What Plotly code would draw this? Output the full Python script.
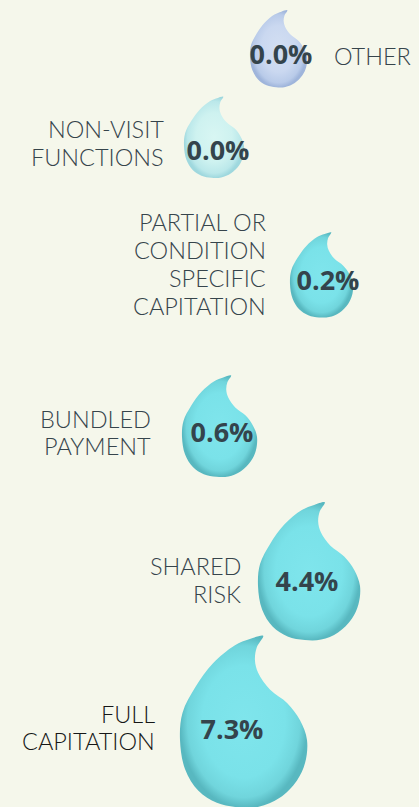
import numpy as np
import plotly.graph_objects as go

# ---- data ----
categories = ["OTHER", "NON-VISIT<br>FUNCTIONS",
              "PARTIAL OR<br>CONDITION<br>SPECIFIC<br>CAPITATION",
              "BUNDLED<br>PAYMENT", "SHARED<br>RISK", "FULL<br>CAPITATION"]
values = [0.0, 0.0, 0.2, 0.6, 4.4, 7.3]

# ---- layout (pixel space) ----
W, H = 419, 807
drop_cx = [278.5, 214, 321.5, 219.5, 309, 243.5]
drop_cy = [57, 146, 284, 437, 586, 740]
drop_r = [28.5, 30, 31.5, 37.5, 51, 63.5]
value_x = [281, 218, 328, 222, 307, 232]
value_y = [57, 153, 283, 435, 584, 732]
label_x = [332, 166, 268, 153, 243, 157]
label_y = [55.5, 143, 264, 432.5, 580, 727.5]
label_side = ["left", "right", "right", "right", "right", "right"]
label_colors = ["#36444b"] * 5 + ["#161717"]
LINE_GAP = 27.7
cyan = [[0, "#7fe5ec"], [0.65, "#7ae2e9"], [0.88, "#70d5dc"], [1, "#58b8c0"]]
drop_scales = [
    [[0, "#d3dff2"], [0.6, "#cad8f0"], [0.88, "#b9cbe9"], [1, "#9fb5db"]],
    [[0, "#d8f6f3"], [0.6, "#cef2f0"], [0.88, "#bbe8ea"], [1, "#9fd8de"]],
    cyan, cyan, cyan, cyan,
]
BG = "#f5f7eb"

# normalised droplet outline (unit radius, y up), clockwise from the tip
drop_outline = np.array([
    (0.31, 1.64), (0.21, 1.46), (0.18, 1.26), (0.23, 1.06), (0.42, 0.79),
    (0.69, 0.58), (0.89, 0.31), (1.00, 0.00), (0.97, -0.36), (0.84, -0.64),
    (0.57, -0.91), (0.24, -1.05), (-0.08, -1.06), (-0.42, -0.99),
    (-0.71, -0.80), (-0.92, -0.46), (-1.00, 0.00), (-0.96, 0.43),
    (-0.76, 0.83), (-0.48, 1.21), (-0.14, 1.49), (0.10, 1.59), (0.31, 1.64),
])

fig = go.Figure()
for i in range(len(categories)):
    xs = drop_cx[i] + drop_r[i] * drop_outline[:, 0]
    ys = drop_cy[i] - drop_r[i] * drop_outline[:, 1]
    fig.add_trace(go.Scatter(
        x=xs, y=ys, mode="lines", fill="toself",
        line=dict(width=0, color=drop_scales[i][1][1], shape="spline", smoothing=1.0),
        fillgradient=dict(type="radial", colorscale=drop_scales[i]),
        hoverinfo="skip", showlegend=False))

fig.add_trace(go.Scatter(
    x=value_x, y=value_y, mode="text",
    text=[f"{v:.1f}%" for v in values],
    textfont=dict(family="Open Sans", size=27, color="#34444c", weight="bold"),
    hoverinfo="skip", showlegend=False))

for i, cat in enumerate(categories):
    lines = cat.split("<br>")
    n = len(lines)
    for j, ln in enumerate(lines):
        fig.add_annotation(
            x=label_x[i], y=label_y[i] + (j - (n - 1) / 2) * LINE_GAP,
            text=ln, showarrow=False,
            xanchor="left" if label_side[i] == "left" else "right",
            yanchor="middle",
            font=dict(family="Lato", size=23.5, color=label_colors[i], weight=300))

fig.update_layout(
    width=W, height=H, margin=dict(l=0, r=0, t=0, b=0),
    paper_bgcolor=BG, plot_bgcolor=BG,
    xaxis=dict(range=[0, W], visible=False, fixedrange=True),
    yaxis=dict(range=[H, 0], visible=False, fixedrange=True),
)
fig.write_html(
    "out.html",
    config={"displayModeBar": False},
    post_script="document.body.style.margin='0';document.body.style.background='#f5f7eb';",
)
